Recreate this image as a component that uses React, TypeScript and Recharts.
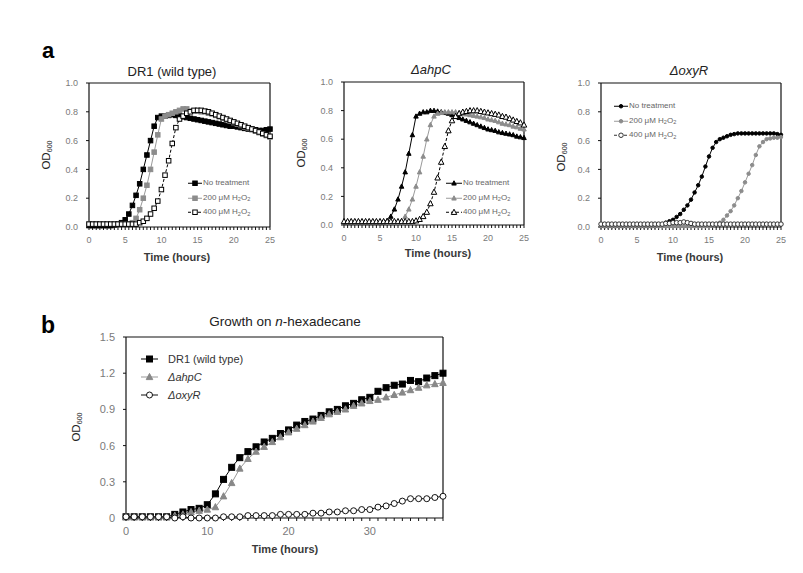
import React from 'react'
import { LineChart, Line, XAxis, YAxis, Legend } from 'recharts'

const FONT = '"Liberation Sans", Arial, sans-serif'

// time axes (hours)
const hoursA = [
  0, 0.5, 1, 1.5, 2, 2.5, 3, 3.5, 4, 4.5,
  5, 5.5, 6, 6.5, 7, 7.5, 8, 8.5, 9, 9.5,
  10, 10.5, 11, 11.5, 12, 12.5, 13, 13.5, 14, 14.5,
  15, 15.5, 16, 16.5, 17, 17.5, 18, 18.5, 19, 19.5,
  20, 20.5, 21, 21.5, 22, 22.5, 23, 23.5, 24, 24.5,
  25,
]
const hoursB = [
  0, 1, 2, 3, 4, 5, 6, 7, 8, 9,
  10, 11, 12, 13, 14, 15, 16, 17, 18, 19,
  20, 21, 22, 23, 24, 25, 26, 27, 28, 29,
  30, 31, 32, 33, 34, 35, 36, 37, 38, 39,
]
const odTicksA = [0, 0.2, 0.4, 0.6, 0.8, 1.0]
const odTicksB = [0, 0.3, 0.6, 0.9, 1.2, 1.5]

// panel a, DR1 (wild type)
const wtNone = [
  0.01, 0.01, 0.01, 0.01, 0.01, 0.01, 0.01, 0.015, 0.02, 0.03,
  0.05, 0.09, 0.15, 0.22, 0.30, 0.40, 0.50, 0.60, 0.70, 0.76,
  0.77, 0.77, 0.775, 0.78, 0.775, 0.77, 0.765, 0.76, 0.755, 0.75,
  0.745, 0.74, 0.735, 0.73, 0.725, 0.72, 0.715, 0.71, 0.705, 0.70,
  0.70, 0.695, 0.69, 0.685, 0.68, 0.68, 0.675, 0.67, 0.67, 0.675,
  0.68,
]
const wt200 = [
  0.02, 0.02, 0.02, 0.02, 0.02, 0.02, 0.02, 0.02, 0.02, 0.02,
  0.02, 0.02, 0.03, 0.06, 0.12, 0.20, 0.29, 0.40, 0.52, 0.64,
  0.75, 0.77, 0.78, 0.79, 0.80, 0.81, 0.82, 0.82, 0.805, 0.805,
  0.805, 0.80, 0.80, 0.79, 0.785, 0.775, 0.765, 0.755, 0.745, 0.735,
  0.725, 0.715, 0.705, 0.695, 0.685, 0.675, 0.665, 0.655, 0.645, 0.635,
  0.625,
]
const wt400 = [
  0.02, 0.02, 0.02, 0.02, 0.02, 0.02, 0.02, 0.02, 0.02, 0.02,
  0.02, 0.02, 0.02, 0.02, 0.03, 0.04, 0.06, 0.09, 0.13, 0.18,
  0.26, 0.36, 0.46, 0.58, 0.69, 0.75, 0.77, 0.79, 0.80, 0.81,
  0.81, 0.81, 0.805, 0.80, 0.79, 0.78, 0.77, 0.76, 0.75, 0.74,
  0.73, 0.72, 0.71, 0.70, 0.69, 0.68, 0.67, 0.66, 0.65, 0.64,
  0.63,
]

// panel a, ahpC mutant
const ahpNone = [
  0.02, 0.02, 0.02, 0.02, 0.02, 0.02, 0.02, 0.02, 0.02, 0.02,
  0.02, 0.02, 0.03, 0.06, 0.11, 0.18, 0.27, 0.37, 0.50, 0.63,
  0.76, 0.78, 0.79, 0.79, 0.80, 0.80, 0.795, 0.79, 0.785, 0.78,
  0.77, 0.76, 0.75, 0.74, 0.73, 0.72, 0.71, 0.70, 0.69, 0.68,
  0.67, 0.665, 0.66, 0.65, 0.645, 0.64, 0.635, 0.63, 0.62, 0.615,
  0.61,
]
const ahp200 = [
  0.02, 0.02, 0.02, 0.02, 0.02, 0.02, 0.02, 0.02, 0.02, 0.02,
  0.02, 0.02, 0.02, 0.02, 0.02, 0.02, 0.03, 0.06, 0.11, 0.18,
  0.27, 0.37, 0.48, 0.60, 0.70, 0.76, 0.78, 0.785, 0.79, 0.79,
  0.79, 0.79, 0.785, 0.78, 0.775, 0.77, 0.765, 0.76, 0.755, 0.75,
  0.74, 0.735, 0.73, 0.72, 0.71, 0.705, 0.70, 0.69, 0.685, 0.675,
  0.67,
]
const ahp400 = [
  0.025, 0.025, 0.025, 0.025, 0.025, 0.025, 0.025, 0.025, 0.025, 0.025,
  0.025, 0.025, 0.025, 0.025, 0.025, 0.025, 0.025, 0.025, 0.025, 0.025,
  0.03, 0.04, 0.06, 0.09, 0.15, 0.23, 0.33, 0.44, 0.55, 0.66,
  0.73, 0.76, 0.78, 0.79, 0.795, 0.80, 0.80, 0.80, 0.795, 0.79,
  0.785, 0.78, 0.775, 0.77, 0.76, 0.755, 0.745, 0.735, 0.725, 0.715,
  0.70,
]

// panel a, oxyR mutant
const oxyNone = [
  0.005, 0.005, 0.005, 0.005, 0.005, 0.005, 0.005, 0.005, 0.005, 0.005,
  0.005, 0.005, 0.005, 0.005, 0.005, 0.005, 0.01, 0.02, 0.03, 0.04,
  0.05, 0.07, 0.09, 0.12, 0.15, 0.19, 0.24, 0.29, 0.35, 0.42,
  0.49, 0.55, 0.59, 0.61, 0.62, 0.63, 0.64, 0.645, 0.65, 0.65,
  0.65, 0.65, 0.65, 0.65, 0.65, 0.65, 0.65, 0.65, 0.65, 0.645,
  0.64,
]
const oxy200 = [
  0.005, 0.005, 0.005, 0.005, 0.005, 0.005, 0.005, 0.005, 0.005, 0.005,
  0.005, 0.005, 0.005, 0.005, 0.005, 0.005, 0.005, 0.005, 0.005, 0.005,
  0.005, 0.005, 0.005, 0.005, 0.005, 0.005, 0.005, 0.005, 0.005, 0.005,
  0.005, 0.01, 0.02, 0.03, 0.05, 0.08, 0.11, 0.15, 0.20, 0.25,
  0.31, 0.37, 0.43, 0.50, 0.56, 0.59, 0.61, 0.615, 0.62, 0.62,
  0.625,
]
const oxy400 = [
  0.02, 0.02, 0.02, 0.02, 0.02, 0.02, 0.02, 0.02, 0.02, 0.02,
  0.02, 0.02, 0.02, 0.02, 0.02, 0.02, 0.02, 0.02, 0.025, 0.025,
  0.03, 0.03, 0.03, 0.035, 0.03, 0.025, 0.02, 0.02, 0.02, 0.02,
  0.02, 0.02, 0.02, 0.02, 0.02, 0.02, 0.02, 0.02, 0.02, 0.02,
  0.02, 0.02, 0.02, 0.02, 0.02, 0.02, 0.02, 0.02, 0.02, 0.02,
  0.02,
]

// panel b, growth on n-hexadecane
const hexWt = [
  0.01, 0.01, 0.01, 0.01, 0.01, 0.01, 0.03, 0.05, 0.07, 0.08,
  0.11, 0.20, 0.32, 0.42, 0.50, 0.55, 0.59, 0.63, 0.66, 0.70,
  0.73, 0.77, 0.80, 0.82, 0.85, 0.88, 0.90, 0.93, 0.95, 0.98,
  1.00, 1.05, 1.08, 1.10, 1.11, 1.14, 1.13, 1.16, 1.18, 1.20,
]
const hexAhp = [
  0.01, 0.01, 0.01, 0.01, 0.01, 0.01, 0.02, 0.03, 0.05, 0.06,
  0.07, 0.09, 0.18, 0.29, 0.41, 0.49, 0.55, 0.59, 0.63, 0.67,
  0.71, 0.74, 0.77, 0.80, 0.83, 0.86, 0.88, 0.90, 0.93, 0.95,
  0.97, 0.98, 1.00, 1.02, 1.04, 1.06, 1.08, 1.10, 1.11, 1.12,
]
const hexOxy = [
  0.01, 0.01, 0.01, 0.01, 0.01, 0.01, 0.0, 0.01, 0.0, 0.0,
  0.0, 0.0, 0.01, 0.01, 0.01, 0.02, 0.02, 0.02, 0.02, 0.03,
  0.03, 0.03, 0.03, 0.04, 0.04, 0.05, 0.05, 0.06, 0.06, 0.07,
  0.07, 0.09, 0.10, 0.12, 0.14, 0.16, 0.16, 0.16, 0.17, 0.18,
]

type Shape = 'square' | 'triangle' | 'circle'
type Series = {
  key: string
  name: string
  values: number[]
  shape: Shape
  fill: string
  stroke: string
  line: string
  dash?: string
  size: number
  italic?: boolean
}

function Marker({ shape, cx, cy, size, fill, stroke }: { shape: Shape; cx: number; cy: number; size: number; fill: string; stroke: string }) {
  const h = size / 2
  if (shape === 'square') {
    return <rect x={cx - h} y={cy - h} width={size} height={size} fill={fill} stroke={stroke} strokeWidth={1} />
  }
  if (shape === 'triangle') {
    const pts = `${cx},${cy - h * 1.1} ${cx - h},${cy + h * 0.8} ${cx + h},${cy + h * 0.8}`
    return <polygon points={pts} fill={fill} stroke={stroke} strokeWidth={1} />
  }
  return <circle cx={cx} cy={cy} r={h} fill={fill} stroke={stroke} strokeWidth={1} />
}

// turns "H2O2" into H₂O₂ with real subscripts
const subStyle = { fontSize: '0.7em', verticalAlign: 'baseline', position: 'relative', top: '0.3em' } as const
function formatName(name: string) {
  const parts = name.split('H2O2')
  if (parts.length === 1) return name
  return (
    <>
      {parts[0]}H<sub style={subStyle}>2</sub>O<sub style={subStyle}>2</sub>
    </>
  )
}

function LegendBox({ series, fontSize, color, rowH, lineW, gap }: { series: Series[]; fontSize: number; color: string; rowH: number; lineW: number; gap: number }) {
  return (
    <div style={{ fontFamily: FONT, fontSize, color, whiteSpace: 'nowrap' }}>
      {series.map((s) => (
        <div key={s.key} style={{ display: 'flex', alignItems: 'center', height: rowH }}>
          <svg width={lineW} height={rowH} style={{ display: 'block' }}>
            <line x1={0} x2={lineW} y1={rowH / 2} y2={rowH / 2} stroke={s.line} strokeWidth={1} strokeDasharray={s.dash} />
            <Marker shape={s.shape} cx={lineW / 2} cy={rowH / 2} size={s.size} fill={s.fill} stroke={s.stroke} />
          </svg>
          <span style={{ marginLeft: gap, fontStyle: s.italic ? 'italic' : 'normal', lineHeight: 1 }}>{formatName(s.name)}</span>
        </div>
      ))}
    </div>
  )
}

type PanelProps = {
  plot: { l: number; t: number; w: number; h: number }
  hours: number[]
  series: Series[]
  xMax: number
  xLabelEvery: number
  yMax: number
  yTicks: number[]
  tickFont: number
  legend: { l: number; t: number; fontSize: number; color: string; rowH: number; lineW: number; gap: number }
}

const FRAME = '#111'

function Panel({ plot, hours, series, xMax, xLabelEvery, yMax, yTicks, tickFont, legend }: PanelProps) {
  const yW = 30
  const xH = 25
  // thin top x-axis and right y-axis close the frame round the plot
  const m = { top: 8, right: 8, bottom: 10, left: 10 }
  const left = plot.l - m.left - yW
  const top = plot.t - m.top - 2
  const width = plot.w + m.left + yW + 2 + m.right
  const height = plot.h + m.top + 2 + xH + m.bottom

  const data = hours.map((t, i) => {
    const row: Record<string, number> = { t }
    series.forEach((s) => {
      row[s.key] = s.values[i]
    })
    return row
  })

  return (
    <div style={{ position: 'absolute', left, top, width, height }}>
      <LineChart width={width} height={height} data={data} margin={m}>
        <XAxis
          dataKey="t"
          type="number"
          domain={[0, xMax]}
          ticks={hours}
          interval={0}
          height={xH}
          tickSize={3}
          tickMargin={tickFont > 10 ? 6 : 7}
          tickFormatter={(v: number) => (v % xLabelEvery === 0 ? String(v) : '')}
          tick={{ fontSize: tickFont, fill: '#7a7a7a', fontFamily: FONT }}
          axisLine={{ stroke: FRAME, strokeWidth: 1.2 }}
          tickLine={{ stroke: FRAME }}
        />
        <XAxis
          xAxisId="top"
          orientation="top"
          dataKey="t"
          type="number"
          domain={[0, xMax]}
          height={2}
          tick={false}
          tickLine={false}
          axisLine={{ stroke: FRAME, strokeWidth: 1.2 }}
        />
        <YAxis
          type="number"
          domain={[0, yMax]}
          ticks={yTicks}
          interval={0}
          width={yW}
          tickSize={3}
          tickMargin={8}
          tickFormatter={(v: number) => (yMax > 1 ? (v === 0 ? '0' : v.toFixed(1)) : v.toFixed(1))}
          tick={{ fontSize: tickFont, fill: '#7a7a7a', fontFamily: FONT }}
          axisLine={{ stroke: FRAME, strokeWidth: 1.2 }}
          tickLine={{ stroke: FRAME }}
        />
        <YAxis
          yAxisId="right"
          orientation="right"
          type="number"
          domain={[0, yMax]}
          width={2}
          tick={false}
          tickLine={false}
          axisLine={{ stroke: FRAME, strokeWidth: 1.2 }}
        />
        {series.map((s) => (
          <Line
            key={s.key}
            dataKey={s.key}
            name={s.name}
            type="linear"
            stroke={s.line}
            strokeWidth={1}
            strokeDasharray={s.dash}
            isAnimationActive={false}
            dot={(p: any) =>
              p.cx == null || p.cy == null ? (
                <g key={`${s.key}-${p.index}`} />
              ) : (
                <Marker key={`${s.key}-${p.index}`} shape={s.shape} cx={p.cx} cy={p.cy} size={s.size} fill={s.fill} stroke={s.stroke} />
              )
            }
            activeDot={false}
          />
        ))}
        <Legend
          layout="vertical"
          align="center"
          verticalAlign="middle"
          wrapperStyle={{ left: legend.l - left, top: legend.t - top, width: 'auto' }}
          content={() => (
            <LegendBox series={series} fontSize={legend.fontSize} color={legend.color} rowH={legend.rowH} lineW={legend.lineW} gap={legend.gap} />
          )}
        />
      </LineChart>
    </div>
  )
}

const BLACK = '#000'
const GREY = '#8c8c8c'
const GREY_LINE = '#9a9a9a'

const seriesWt: Series[] = [
  { key: 'none', name: 'No treatment', values: wtNone, shape: 'square', fill: BLACK, stroke: BLACK, line: BLACK, size: 4.5 },
  { key: 'h200', name: '200 μM H2O2', values: wt200, shape: 'square', fill: GREY, stroke: GREY, line: GREY_LINE, size: 4.5 },
  { key: 'h400', name: '400 μM H2O2', values: wt400, shape: 'square', fill: '#fff', stroke: BLACK, line: BLACK, dash: '3 2', size: 4.5 },
]
const seriesAhp: Series[] = [
  { key: 'none', name: 'No treatment', values: ahpNone, shape: 'triangle', fill: BLACK, stroke: BLACK, line: BLACK, size: 4.5 },
  { key: 'h200', name: '200 μM H2O2', values: ahp200, shape: 'triangle', fill: GREY, stroke: GREY, line: GREY_LINE, size: 4.5 },
  { key: 'h400', name: '400 μM H2O2', values: ahp400, shape: 'triangle', fill: '#fff', stroke: BLACK, line: BLACK, dash: '3 2', size: 5.5 },
]
const seriesOxy: Series[] = [
  { key: 'none', name: 'No treatment', values: oxyNone, shape: 'circle', fill: BLACK, stroke: BLACK, line: BLACK, size: 3.5 },
  { key: 'h200', name: '200 μM H2O2', values: oxy200, shape: 'circle', fill: GREY, stroke: GREY, line: GREY_LINE, size: 3.5 },
  { key: 'h400', name: '400 μM H2O2', values: oxy400, shape: 'circle', fill: '#fff', stroke: '#333', line: '#333', dash: '3 2', size: 4.5 },
]
const seriesHex: Series[] = [
  { key: 'wt', name: 'DR1 (wild type)', values: hexWt, shape: 'square', fill: BLACK, stroke: BLACK, line: BLACK, size: 6 },
  { key: 'ahp', name: 'ΔahpC', values: hexAhp, shape: 'triangle', fill: '#888', stroke: '#888', line: '#999', size: 6.5, italic: true },
  { key: 'oxy', name: 'ΔoxyR', values: hexOxy, shape: 'circle', fill: '#fff', stroke: '#111', line: '#111', size: 6, italic: true },
]

function Text({ x, y, size, children, weight, italic, color }: { x: number; y: number; size: number; children: React.ReactNode; weight?: number; italic?: boolean; color?: string }) {
  return (
    <div
      style={{
        position: 'absolute',
        left: x,
        top: y,
        transform: 'translate(-50%, -50%)',
        fontFamily: FONT,
        fontSize: size,
        fontWeight: weight ?? 400,
        fontStyle: italic ? 'italic' : 'normal',
        color: color ?? '#222',
        whiteSpace: 'nowrap',
        lineHeight: 1.15,
      }}
    >
      {children}
    </div>
  )
}

function OdLabel({ x, y, size }: { x: number; y: number; size: number }) {
  return (
    <div
      style={{
        position: 'absolute',
        left: x,
        top: y,
        transform: 'translate(-50%, -50%) rotate(-90deg)',
        fontFamily: FONT,
        fontSize: size,
        color: '#222',
        whiteSpace: 'nowrap',
        lineHeight: 1.15,
      }}
    >
      OD<sub style={{ fontSize: '0.62em', verticalAlign: 'baseline', position: 'relative', top: '0.35em' }}>600</sub>
    </div>
  )
}

export default function App() {
  const legA = { fontSize: 8, color: '#666', rowH: 14.5, lineW: 14, gap: 1 }
  return (
    <div style={{ position: 'relative', width: 803, height: 573, margin: -8, background: '#fff', overflow: 'hidden' }}>
      <Text x={48} y={51} size={22} weight={700} color="#000">a</Text>
      <Text x={48} y={325} size={23} weight={700} color="#000">b</Text>

      <Text x={172} y={72} size={13}>DR1 (wild type)</Text>
      <Text x={431} y={70} size={13} italic>ΔahpC</Text>
      <Text x={689} y={71} size={13} italic>ΔoxyR</Text>
      <Text x={285} y={322} size={13.5}>
        Growth on <i>n</i>-hexadecane
      </Text>

      <Panel
        plot={{ l: 89, t: 83, w: 181, h: 144 }}
        hours={hoursA}
        series={seriesWt}
        xMax={25}
        xLabelEvery={5}
        yMax={1}
        yTicks={odTicksA}
        tickFont={9}
        legend={{ ...legA, l: 188, t: 176 }}
      />
      <Panel
        plot={{ l: 344, t: 82, w: 180, h: 143 }}
        hours={hoursA}
        series={seriesAhp}
        xMax={25}
        xLabelEvery={5}
        yMax={1}
        yTicks={odTicksA}
        tickFont={9}
        legend={{ ...legA, l: 446, t: 176, lineW: 16 }}
      />
      <Panel
        plot={{ l: 601, t: 83, w: 180, h: 144 }}
        hours={hoursA}
        series={seriesOxy}
        xMax={25}
        xLabelEvery={5}
        yMax={1}
        yTicks={odTicksA}
        tickFont={9}
        legend={{ ...legA, l: 614, t: 99 }}
      />
      <Panel
        plot={{ l: 126, t: 337, w: 317, h: 181 }}
        hours={hoursB}
        series={seriesHex}
        xMax={39}
        xLabelEvery={10}
        yMax={1.5}
        yTicks={odTicksB}
        tickFont={11}
        legend={{ l: 141, t: 350, fontSize: 11, color: '#333', rowH: 18, lineW: 17, gap: 10 }}
      />

      <Text x={177} y={257} size={11} weight={700} color="#3a3a3a">Time (hours)</Text>
      <Text x={438} y={253} size={11} weight={700} color="#3a3a3a">Time (hours)</Text>
      <Text x={690} y={257} size={11} weight={700} color="#3a3a3a">Time (hours)</Text>
      <Text x={285} y={549} size={11} weight={700} color="#3a3a3a">Time (hours)</Text>

      <OdLabel x={47} y={155} size={11.5} />
      <OdLabel x={302} y={153} size={11.5} />
      <OdLabel x={562} y={157} size={11.5} />
      <OdLabel x={77} y={427} size={11.5} />
    </div>
  )
}
